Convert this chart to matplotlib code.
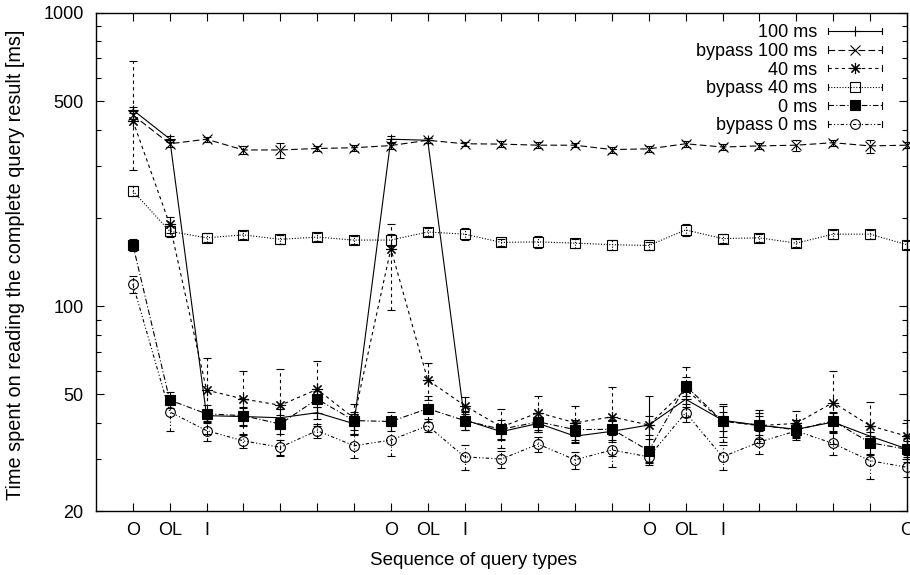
import numpy as np
import matplotlib
matplotlib.use('Agg')
import matplotlib.pyplot as plt
from matplotlib.lines import Line2D
from matplotlib.legend_handler import HandlerBase

plt.rcParams['font.family'] = ['Liberation Sans', 'DejaVu Sans']
plt.rcParams['font.size'] = 13

# sequence position of each query
x = np.arange(1, 23)
xlabels = ['O', 'OL', 'I', '', '', '', '', 'O', 'OL', 'I', '', '', '', '', 'O', 'OL', 'I', '', '', '', '', 'O']

# mean times [ms]
ms100 = [467, 372, 42.3, 42, 41.6, 43.3, 39.7, 371, 368, 40.9, 37.3, 39.8, 36.0, 37.4, 39.3, 48.1, 40.8, 39.2, 38, 40.2, 36, 32.6]
bypass100 = [449, 358, 371, 341, 341, 345, 347, 353, 368, 358, 357, 354, 354, 342, 344, 358, 349, 352, 354, 361, 352, 354]
ms40 = [429, 190, 51.7, 48.2, 45.9, 52, 41.5, 157, 56, 45.8, 38.7, 43.3, 40, 41.9, 39.3, 52, 40.5, 39.1, 39.8, 46.9, 39.1, 36.0]
bypass40 = [247, 180, 171, 175, 169, 172, 168, 168, 179, 176, 165, 165.6, 164, 162, 161, 182, 170, 171, 164, 176, 176, 162]
ms0 = [162, 47.8, 42.9, 42.3, 39.6, 48.2, 40.7, 40.4, 44.7, 40.7, 38.0, 40.3, 37.9, 38.0, 32.1, 53.5, 40.5, 39.3, 37.8, 40.6, 34.2, 32.5]
bypass0 = [119, 43.6, 37.6, 34.7, 33.0, 37.6, 33.4, 34.9, 39.1, 30.6, 30.1, 33.8, 29.9, 32.3, 30.6, 43.3, 30.6, 34.4, 37.5, 34.0, 29.7, 28.2]

# error bars
err100 = [10, 10, 2, 3, 3, 2, 3, 10, 8, 3, 2, 2, 2, 3, 10, 3, 5, 5, 2, 3, 3, 2]
errb100 = [15, 10, 8, 10, 20, 8, 8, 10, 8, 6, 8, 8, 6, 8, 8, 8, 8, 8, 15, 8, 18, 8]
err40_lo = [138, 12, 15, 12, 15, 13, 5, 60, 8, 3, 6, 6, 5.5, 11, 3, 10, 6, 4, 4, 13, 8, 5]
err40_hi = [257, 12, 15, 12, 15, 13, 5, 33, 8, 3, 6, 6, 5.5, 11, 3, 10, 6, 4, 4, 13, 8, 5]
errb40 = [10, 8, 6, 6, 6, 5, 5, 8, 6, 8, 5, 8, 6, 6, 5, 8, 6, 5, 5, 6, 6, 5]
err0 = [8, 3, 3, 3, 3, 3, 3, 3, 4.6, 3, 3, 3, 3, 3, 3, 4, 3, 3, 3, 3, 3, 3]
errb0 = [8, 6, 3, 2, 2, 2, 3, 4, 2, 3, 2, 2, 2, 4, 2, 3, 3, 3, 2, 3, 4, 2]

series = [
    ('100 ms', ms100, err100, '-', '+', 'black', 7),
    ('bypass 100 ms', bypass100, errb100, (0, (6, 3)), 'x', 'black', 6.5),
    ('40 ms', ms40, [err40_lo, err40_hi], (0, (3, 3)), (8, 2, 0), 'black', 8),
    ('bypass 40 ms', bypass40, errb40, (0, (1, 1.5)), 's', 'none', 7),
    ('0 ms', ms0, err0, (0, (5, 2, 1, 2)), 's', 'black', 7),
    ('bypass 0 ms', bypass0, errb0, (0, (3, 2, 1, 2, 1, 2)), 'o', 'none', 7),
]


class ErrHandler(HandlerBase):
    # gnuplot style key sample: |---marker---|
    def create_artists(self, legend, orig, xdescent, ydescent, width, height, fontsize, trans):
        x0, x1 = -xdescent, -xdescent + width
        ym = -ydescent + height / 2
        c = height * 0.25
        ln = Line2D([x0, x1], [ym, ym])
        ln.update_from(orig)
        ln.set_marker('None')
        mk = Line2D([(x0 + x1) / 2], [ym])
        mk.update_from(orig)
        mk.set_linestyle('None')
        c1 = Line2D([x0, x0], [ym - c, ym + c], color='black', lw=0.8)
        c2 = Line2D([x1, x1], [ym - c, ym + c], color='black', lw=0.8)
        arts = [ln, c1, c2, mk]
        for a in arts:
            a.set_transform(trans)
        return arts


fig = plt.figure(figsize=(9.1, 5.75), dpi=100)
ax = fig.add_axes([0.1055, 0.1113, 0.891, 0.8661])

handles = []
for label, y, err, ls, mk, mfc, ms in series:
    cont = ax.errorbar(x, y, yerr=err, color='black', lw=0.8, ls=ls, marker=mk,
                       mfc=mfc, mec='black', ms=ms, mew=0.8, capsize=3, elinewidth=0.8,
                       capthick=0.8, clip_on=False)
    for lc in cont[2]:
        lc.set_linestyle(ls)
    handles.append(Line2D([], [], color='black', lw=0.8, ls=ls, marker=mk, mfc=mfc,
                          mec='black', ms=ms, mew=0.8, label=label))

ax.set_yscale('log')
ax.set_ylim(20, 1000)
ax.set_xlim(0, 22)
ax.set_yticks([20, 50, 100, 500, 1000])
ax.set_yticklabels(['20', '50', '100', '500', '1000'])
ax.set_yticks([30, 40, 60, 70, 80, 90, 200, 300, 400, 600, 700, 800, 900], minor=True)
ax.yaxis.set_minor_formatter(plt.NullFormatter())
ax.set_xticks(x)
ax.set_xticklabels(xlabels)
ax.tick_params(direction='in', top=True, right=True, length=6, width=0.8, labelsize=13)
ax.tick_params(axis='x', pad=8)
ax.tick_params(axis='y', pad=9)
ax.tick_params(which='minor', direction='in', right=True, length=3.5, width=0.8)
for s in ax.spines.values():
    s.set_linewidth(1.0)

ax.set_xlabel('Sequence of query types', fontsize=13.5)
ax.xaxis.set_label_coords(0.465, -0.082)
ax.set_ylabel('Time spent on reading the complete query result [ms]', fontsize=14.3)
ax.yaxis.set_label_coords(-0.087, 0.495)

ax.legend(handles=handles, loc='upper right', bbox_to_anchor=(0.99, 1.01), frameon=False,
          markerfirst=False, handlelength=3.0, handletextpad=0.6, labelspacing=0.09,
          handler_map={Line2D: ErrHandler()}, fontsize=13)

fig.savefig('out.png', dpi=100)
